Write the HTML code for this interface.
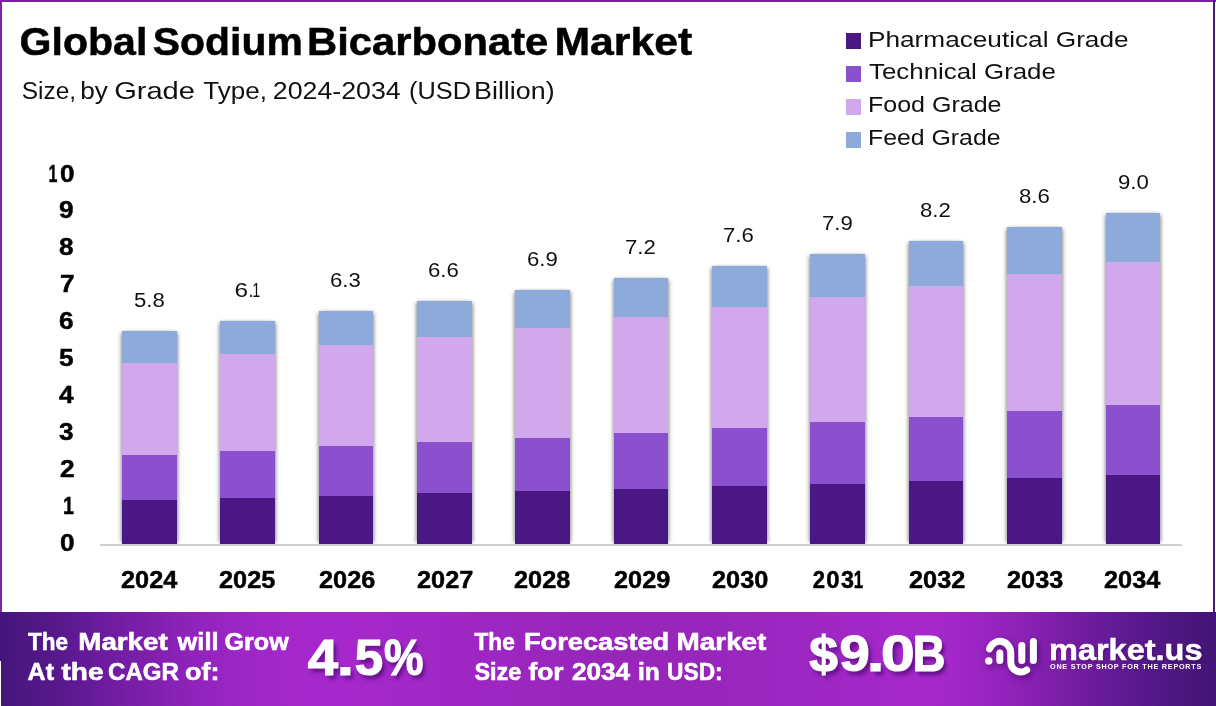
<!DOCTYPE html>
<html lang="en"><head><meta charset="utf-8"><title>Global Sodium Bicarbonate Market</title>
<style>
html,body{margin:0;padding:0;}
body{width:1216px;height:706px;position:relative;overflow:hidden;background:#fff;font-family:"Liberation Sans",sans-serif;}
.frame{position:absolute;left:0;top:0;width:1216px;height:706px;box-sizing:border-box;}
.bt{position:absolute;left:0;top:0;width:1216px;height:2px;background:#7b1fa2;}
.bl{position:absolute;left:0;top:0;width:2px;height:612px;background:#8520aa;}
.br{position:absolute;left:1213px;top:0;width:2px;height:612px;background:#4a1a7c;}
.banner{position:absolute;left:0;top:612px;width:1216px;height:94px;background:linear-gradient(90deg,#46157c 0%,#541888 4%,#691b9c 8%,#7e1fac 12%,#9023bb 16%,#9e26c6 20%,#a628cc 25%,#a628cc 29%,#9f27c4 38%,#9826bb 48%,#9826bb 58%,#9f27c4 68%,#a628cc 75%,#a427ca 78%,#8d22b6 84%,#6e1c9e 89.5%,#55188a 94.5%,#421474 100%);}
.notch{position:absolute;left:0;top:661px;width:1px;height:45px;background:#fff;}
.t{position:absolute;white-space:nowrap;line-height:1em;transform-origin:0 0;}
.w{display:inline-block;width:0;white-space:pre;vertical-align:baseline;transform-origin:0 0;}
.plot{position:absolute;left:0;top:150px;width:1216px;height:394.2px;overflow:hidden;}
.axis{position:absolute;left:100px;top:544px;width:1082px;height:1.5px;background:#cfcfcf;}
.bar{position:absolute;width:54.2px;box-shadow:3px 0 4px -2px rgba(0,0,0,.4),-3px 0 4px -2px rgba(0,0,0,.4),0 0 3px rgba(0,0,0,.1);}
.bar i{position:absolute;left:0;width:100%;display:block;}
.sq{position:absolute;left:846px;width:15px;height:15.3px;}
.logo{position:absolute;filter:drop-shadow(2px 3px 3px rgba(45,0,80,.55));}
</style></head>
<body>
<div class="bt"></div><div class="bl"></div><div class="br"></div>
<div class="banner"></div><div class="notch"></div>
<div class="plot">
<div class="bar" style="left:122.00px;top:181.00px;height:213.00px;width:55.0px"><i style="top:0.00px;height:32.02px;background:#8eaadb"></i><i style="top:31.52px;height:92.73px;background:#d2a8ec"></i><i style="top:123.75px;height:45.44px;background:#8b50ce"></i><i style="top:168.70px;height:44.80px;background:#4b1784"></i></div>
<div class="bar" style="left:220.00px;top:171.00px;height:223.00px;width:55.0px"><i style="top:0.00px;height:33.50px;background:#8eaadb"></i><i style="top:33.00px;height:97.06px;background:#d2a8ec"></i><i style="top:129.56px;height:47.55px;background:#8b50ce"></i><i style="top:176.62px;height:46.88px;background:#4b1784"></i></div>
<div class="bar" style="left:319.00px;top:161.00px;height:233.00px;width:54.0px"><i style="top:0.00px;height:34.98px;background:#8eaadb"></i><i style="top:34.48px;height:101.39px;background:#d2a8ec"></i><i style="top:135.37px;height:49.66px;background:#8b50ce"></i><i style="top:184.54px;height:48.96px;background:#4b1784"></i></div>
<div class="bar" style="left:417.00px;top:151.00px;height:243.00px;width:55.0px"><i style="top:0.00px;height:36.46px;background:#8eaadb"></i><i style="top:35.96px;height:105.72px;background:#d2a8ec"></i><i style="top:141.18px;height:51.77px;background:#8b50ce"></i><i style="top:192.46px;height:51.04px;background:#4b1784"></i></div>
<div class="bar" style="left:515.20px;top:140.30px;height:253.70px;width:55.0px"><i style="top:0.00px;height:38.05px;background:#8eaadb"></i><i style="top:37.55px;height:110.35px;background:#d2a8ec"></i><i style="top:147.40px;height:54.03px;background:#8b50ce"></i><i style="top:200.93px;height:53.27px;background:#4b1784"></i></div>
<div class="bar" style="left:614.00px;top:128.00px;height:266.00px;width:54.2px"><i style="top:0.00px;height:39.87px;background:#8eaadb"></i><i style="top:39.37px;height:115.68px;background:#d2a8ec"></i><i style="top:154.55px;height:56.63px;background:#8b50ce"></i><i style="top:210.67px;height:55.83px;background:#4b1784"></i></div>
<div class="bar" style="left:712.20px;top:116.10px;height:277.90px;width:55.0px"><i style="top:0.00px;height:41.63px;background:#8eaadb"></i><i style="top:41.13px;height:120.83px;background:#d2a8ec"></i><i style="top:161.46px;height:59.14px;background:#8b50ce"></i><i style="top:220.10px;height:58.30px;background:#4b1784"></i></div>
<div class="bar" style="left:810.20px;top:104.00px;height:290.00px;width:55.0px"><i style="top:0.00px;height:43.42px;background:#8eaadb"></i><i style="top:42.92px;height:126.07px;background:#d2a8ec"></i><i style="top:168.49px;height:61.69px;background:#8b50ce"></i><i style="top:229.68px;height:60.82px;background:#4b1784"></i></div>
<div class="bar" style="left:909.00px;top:91.00px;height:303.00px;width:54.0px"><i style="top:0.00px;height:45.34px;background:#8eaadb"></i><i style="top:44.84px;height:131.70px;background:#d2a8ec"></i><i style="top:176.04px;height:64.43px;background:#8b50ce"></i><i style="top:239.98px;height:63.52px;background:#4b1784"></i></div>
<div class="bar" style="left:1006.80px;top:77.00px;height:317.00px;width:55.2px"><i style="top:0.00px;height:47.42px;background:#8eaadb"></i><i style="top:46.92px;height:137.76px;background:#d2a8ec"></i><i style="top:184.18px;height:67.39px;background:#8b50ce"></i><i style="top:251.06px;height:66.44px;background:#4b1784"></i></div>
<div class="bar" style="left:1106.00px;top:62.70px;height:331.30px;width:54.0px"><i style="top:0.00px;height:49.53px;background:#8eaadb"></i><i style="top:49.03px;height:143.95px;background:#d2a8ec"></i><i style="top:192.49px;height:70.40px;background:#8b50ce"></i><i style="top:262.39px;height:69.41px;background:#4b1784"></i></div>
</div>
<div class="axis"></div>
<div class="sq" style="top:33.3px;background:#4b1784"></div><div class="sq" style="top:66.3px;background:#8b50ce"></div><div class="sq" style="top:99.4px;background:#d2a8ec"></div><div class="sq" style="top:132.4px;background:#8eaadb"></div>
<svg class="logo" width="70" height="56" viewBox="976 626 70 56" style="left:976px;top:626px">
<g fill="none" stroke="#fff" stroke-width="7" stroke-linecap="round">
<path d="M989.5 648.9 A11 11.6 0 0 1 1010.8 653 L1010.8 662 A10 10 0 0 0 1026.7 670"/>
<path d="M999.8 652.9 L999.8 660.5"/>
<path d="M1021.8 645.4 L1021.8 660.5"/>
<path d="M1033.4 641.6 L1033.4 660.5"/>
</g>
<circle cx="988.8" cy="660.9" r="3.7" fill="#fff"/>
</svg>
<div class="t" style="left:0;top:21.93px;font-size:39.3px;font-weight:700;color:#000;-webkit-text-stroke:0.5px #000;"><span class="w" style="transform:translateX(19.56px) scaleX(1.0448)">Global </span><span class="w" style="transform:translateX(152.86px) scaleX(1.0401)">Sodium </span><span class="w" style="transform:translateX(307.08px) scaleX(1.0622)">Bicarbonate </span><span class="w" style="transform:translateX(554.42px) scaleX(1.0875)">Market</span></div>
<div class="t" style="left:0;top:78.51px;font-size:24.8px;font-weight:400;color:#111;"><span class="w" style="transform:translateX(21.76px) scaleX(0.9868)">Size, </span><span class="w" style="transform:translateX(80.15px) scaleX(1.0546)">by </span><span class="w" style="transform:translateX(114.13px) scaleX(1.1724)">Grade </span><span class="w" style="transform:translateX(203.30px) scaleX(1.0501)">Type, </span><span class="w" style="transform:translateX(272.82px) scaleX(1.0782)">2024-2034 </span><span class="w" style="transform:translateX(408.98px) scaleX(1.0221)">(USD </span><span class="w" style="transform:translateX(474.04px) scaleX(1.0821)">Billion)</span></div>
<div class="t" style="left:867.82px;top:28.61px;font-size:22.2px;font-weight:400;color:#111;transform:scaleX(1.1804);">Pharmaceutical Grade</div>
<div class="t" style="left:869.00px;top:61.31px;font-size:22.2px;font-weight:400;color:#111;transform:scaleX(1.1657);">Technical Grade</div>
<div class="t" style="left:867.87px;top:94.21px;font-size:22.2px;font-weight:400;color:#111;transform:scaleX(1.1276);">Food Grade</div>
<div class="t" style="left:867.88px;top:127.31px;font-size:22.2px;font-weight:400;color:#111;transform:scaleX(1.1191);">Feed Grade</div>
<div class="t" style="left:60.04px;top:531.56px;font-size:23.2px;font-weight:700;color:#000;transform:scaleX(1.1300);-webkit-text-stroke:0.45px #000;">0</div>
<div class="t" style="left:62.55px;top:494.66px;font-size:23.2px;font-weight:700;color:#000;transform:scaleX(0.8500);-webkit-text-stroke:0.45px #000;">1</div>
<div class="t" style="left:60.04px;top:457.76px;font-size:23.2px;font-weight:700;color:#000;transform:scaleX(1.1300);-webkit-text-stroke:0.45px #000;">2</div>
<div class="t" style="left:58.91px;top:420.86px;font-size:23.2px;font-weight:700;color:#000;transform:scaleX(1.1300);-webkit-text-stroke:0.45px #000;">3</div>
<div class="t" style="left:58.91px;top:383.96px;font-size:23.2px;font-weight:700;color:#000;transform:scaleX(1.1300);-webkit-text-stroke:0.45px #000;">4</div>
<div class="t" style="left:58.91px;top:347.06px;font-size:23.2px;font-weight:700;color:#000;transform:scaleX(1.1300);-webkit-text-stroke:0.45px #000;">5</div>
<div class="t" style="left:58.91px;top:310.16px;font-size:23.2px;font-weight:700;color:#000;transform:scaleX(1.1300);-webkit-text-stroke:0.45px #000;">6</div>
<div class="t" style="left:60.04px;top:273.26px;font-size:23.2px;font-weight:700;color:#000;transform:scaleX(1.1300);-webkit-text-stroke:0.45px #000;">7</div>
<div class="t" style="left:58.91px;top:236.36px;font-size:23.2px;font-weight:700;color:#000;transform:scaleX(1.1300);-webkit-text-stroke:0.45px #000;">8</div>
<div class="t" style="left:58.91px;top:199.46px;font-size:23.2px;font-weight:700;color:#000;transform:scaleX(1.1300);-webkit-text-stroke:0.45px #000;">9</div>
<div class="t" style="left:0;top:162.56px;font-size:23.2px;font-weight:700;color:#000;-webkit-text-stroke:0.45px #000;"><span class="w" style="transform:translateX(48.61px) scaleX(0.6917)">1</span><span class="w" style="transform:translateX(59.90px) scaleX(1.1250)">0</span></div>
<div class="t" style="left:134.08px;top:290.05px;font-size:20.5px;font-weight:400;color:#111;transform:scaleX(1.0800);">5.8</div>
<div class="t" style="left:121.09px;top:568.63px;font-size:23px;font-weight:700;color:#000;transform:scaleX(1.1000);-webkit-text-stroke:0.45px #000;">2024</div>
<div class="t" style="left:0;top:280.05px;font-size:20.5px;font-weight:400;color:#111;"><span class="w" style="transform:translateX(234.41px) scaleX(1.1900)">6</span><span class="w" style="transform:translateX(248.43px) scaleX(0.8667)">.</span><span class="w" style="transform:translateX(252.30px) scaleX(0.7000)">1</span></div>
<div class="t" style="left:219.49px;top:568.63px;font-size:23px;font-weight:700;color:#000;transform:scaleX(1.1000);-webkit-text-stroke:0.45px #000;">2025</div>
<div class="t" style="left:329.89px;top:270.05px;font-size:20.5px;font-weight:400;color:#111;transform:scaleX(1.0800);">6.3</div>
<div class="t" style="left:318.54px;top:568.63px;font-size:23px;font-weight:700;color:#000;transform:scaleX(1.1000);-webkit-text-stroke:0.45px #000;">2026</div>
<div class="t" style="left:428.39px;top:260.05px;font-size:20.5px;font-weight:400;color:#111;transform:scaleX(1.0800);">6.6</div>
<div class="t" style="left:416.54px;top:568.63px;font-size:23px;font-weight:700;color:#000;transform:scaleX(1.1000);-webkit-text-stroke:0.45px #000;">2027</div>
<div class="t" style="left:526.89px;top:249.35px;font-size:20.5px;font-weight:400;color:#111;transform:scaleX(1.0800);">6.9</div>
<div class="t" style="left:514.49px;top:568.63px;font-size:23px;font-weight:700;color:#000;transform:scaleX(1.1000);-webkit-text-stroke:0.45px #000;">2028</div>
<div class="t" style="left:624.54px;top:237.05px;font-size:20.5px;font-weight:400;color:#111;transform:scaleX(1.0800);">7.2</div>
<div class="t" style="left:613.79px;top:568.63px;font-size:23px;font-weight:700;color:#000;transform:scaleX(1.1000);-webkit-text-stroke:0.45px #000;">2029</div>
<div class="t" style="left:722.79px;top:225.15px;font-size:20.5px;font-weight:400;color:#111;transform:scaleX(1.0800);">7.6</div>
<div class="t" style="left:711.54px;top:568.63px;font-size:23px;font-weight:700;color:#000;transform:scaleX(1.1000);-webkit-text-stroke:0.45px #000;">2030</div>
<div class="t" style="left:821.89px;top:213.05px;font-size:20.5px;font-weight:400;color:#111;transform:scaleX(1.0800);">7.9</div>
<div class="t" style="left:0;top:568.63px;font-size:23px;font-weight:700;color:#000;-webkit-text-stroke:0.45px #000;"><span class="w" style="transform:translateX(812.80px) scaleX(0.9583)">2</span><span class="w" style="transform:translateX(826.30px) scaleX(1.0417)">0</span><span class="w" style="transform:translateX(841.10px) scaleX(1.0167)">3</span><span class="w" style="transform:translateX(853.87px) scaleX(0.7333)">1</span></div>
<div class="t" style="left:920.33px;top:200.05px;font-size:20.5px;font-weight:400;color:#111;transform:scaleX(1.0800);">8.2</div>
<div class="t" style="left:909.04px;top:568.63px;font-size:23px;font-weight:700;color:#000;transform:scaleX(1.1000);-webkit-text-stroke:0.45px #000;">2032</div>
<div class="t" style="left:1019.08px;top:186.05px;font-size:20.5px;font-weight:400;color:#111;transform:scaleX(1.0800);">8.6</div>
<div class="t" style="left:1006.79px;top:568.63px;font-size:23px;font-weight:700;color:#000;transform:scaleX(1.1000);-webkit-text-stroke:0.45px #000;">2033</div>
<div class="t" style="left:1117.98px;top:171.75px;font-size:20.5px;font-weight:400;color:#111;transform:scaleX(1.0800);">9.0</div>
<div class="t" style="left:1104.24px;top:568.63px;font-size:23px;font-weight:700;color:#000;transform:scaleX(1.1000);-webkit-text-stroke:0.45px #000;">2034</div>
<div class="t" style="left:0;top:629.81px;font-size:24.8px;font-weight:700;color:#fff;-webkit-text-stroke:0.6px #fff;"><span class="w" style="transform:translateX(28.00px) scaleX(0.9054)">The </span><span class="w" style="transform:translateX(78.28px) scaleX(1.1185)">Market </span><span class="w" style="transform:translateX(177.62px) scaleX(1.0233)">will </span><span class="w" style="transform:translateX(224.59px) scaleX(1.0113)">Grow</span></div>
<div class="t" style="left:0;top:659.81px;font-size:24.8px;font-weight:700;color:#fff;-webkit-text-stroke:0.6px #fff;"><span class="w" style="transform:translateX(27.60px) scaleX(1.0074)">At </span><span class="w" style="transform:translateX(61.50px) scaleX(1.1290)">the </span><span class="w" style="transform:translateX(108.03px) scaleX(0.9694)">CAGR </span><span class="w" style="transform:translateX(185.00px) scaleX(1.0849)">of:</span></div>
<div class="t" style="left:0;top:632.67px;font-size:50px;font-weight:700;color:#fff;text-shadow:3px 4px 4px rgba(50,0,90,.6);-webkit-text-stroke:1.2px #fff;"><span class="w" style="transform:translateX(307.70px) scaleX(1.0893)">4</span><span class="w" style="transform:translateX(336.96px) scaleX(1.2125)">.</span><span class="w" style="transform:translateX(354.78px) scaleX(1.0192)">5</span><span class="w" style="transform:translateX(383.91px) scaleX(0.8884)">%</span></div>
<div class="t" style="left:0;top:629.81px;font-size:24.8px;font-weight:700;color:#fff;-webkit-text-stroke:0.6px #fff;"><span class="w" style="transform:translateX(474.50px) scaleX(0.9124)">The </span><span class="w" style="transform:translateX(523.90px) scaleX(1.0987)">Forecasted </span><span class="w" style="transform:translateX(676.58px) scaleX(1.1236)">Market</span></div>
<div class="t" style="left:0;top:659.81px;font-size:24.8px;font-weight:700;color:#fff;-webkit-text-stroke:0.6px #fff;"><span class="w" style="transform:translateX(474.50px) scaleX(0.9441)">Size </span><span class="w" style="transform:translateX(528.50px) scaleX(1.0627)">for </span><span class="w" style="transform:translateX(571.90px) scaleX(1.0547)">2034 </span><span class="w" style="transform:translateX(638.01px) scaleX(0.9905)">in </span><span class="w" style="transform:translateX(667.08px) scaleX(0.9171)">USD:</span></div>
<div class="t" style="left:0;top:629.35px;font-size:50.5px;font-weight:700;color:#fff;text-shadow:3px 4px 4px rgba(50,0,90,.6);-webkit-text-stroke:1.2px #fff;"><span class="w" style="transform:translateX(809.30px) scaleX(1.0214)">$</span><span class="w" style="transform:translateX(839.62px) scaleX(1.0769)">9</span><span class="w" style="transform:translateX(867.12px) scaleX(1.2250)">.</span><span class="w" style="transform:translateX(881.00px) scaleX(1.2000)">0</span><span class="w" style="transform:translateX(912.81px) scaleX(0.8969)">B</span></div>
<div class="t" style="left:1048.70px;top:635.03px;font-size:29.5px;font-weight:700;color:#fff;transform:scaleX(1.1017);text-shadow:1px 2px 3px rgba(40,0,70,.4);-webkit-text-stroke:0.5px #fff;">market.us</div>
<div class="t" style="left:1049.80px;top:663.91px;font-size:6.6px;font-weight:700;color:#fff;transform:scaleX(1.0938);letter-spacing:0.70px;">ONE STOP SHOP FOR THE REPORTS</div>
</body></html>
